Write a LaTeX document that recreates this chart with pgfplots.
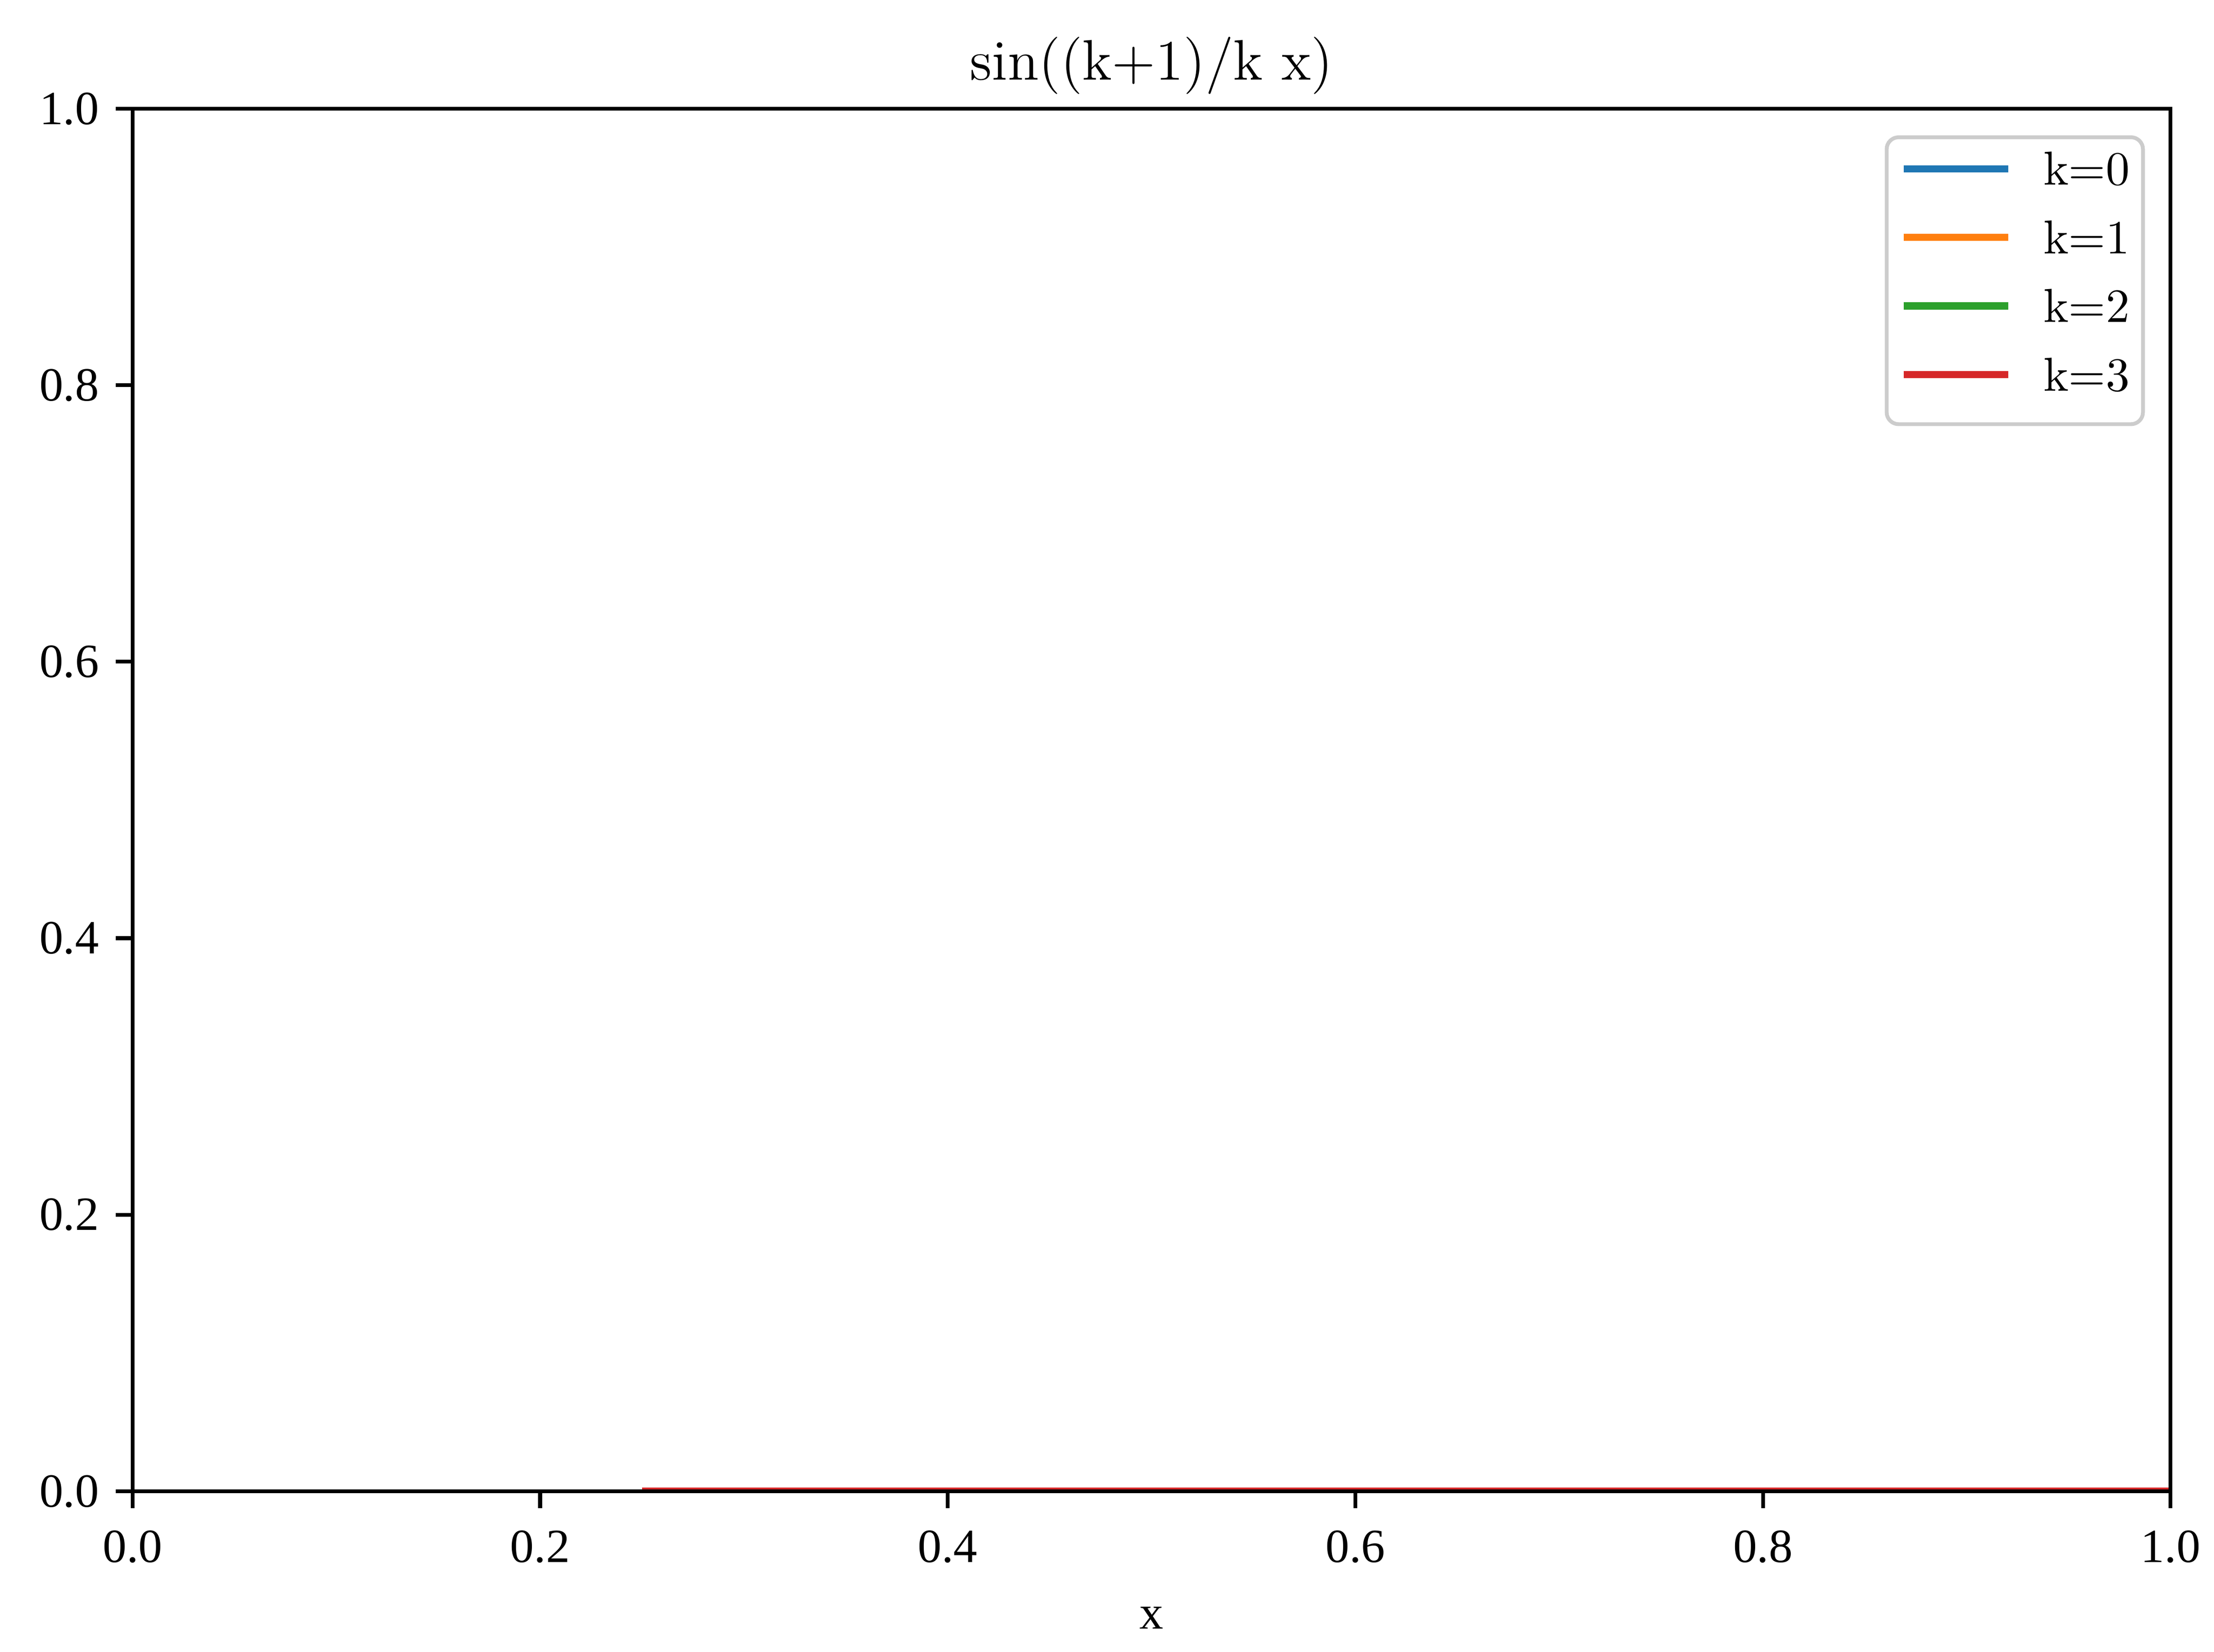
\documentclass[border=0pt]{standalone}
\usepackage{fontspec}
\setmainfont{Liberation Serif}
\newfontfamily\lmr{Latin Modern Roman}
\usepackage{pgfplots}
\pgfplotsset{compat=1.18}

\definecolor{tabblue}{HTML}{1F77B4}
\definecolor{taborange}{HTML}{FF7F0E}
\definecolor{tabgreen}{HTML}{2CA02C}
\definecolor{tabred}{HTML}{D62728}
\definecolor{legedge}{gray}{0.8}

\begin{document}
\begin{tikzpicture}
\useasboundingbox (-27.8pt,-33.7pt) rectangle (436.6pt,312.9pt);
\begin{axis}[
    scale only axis,
    width=427.5pt, height=290.1pt,
    xmin=0, xmax=1, ymin=0, ymax=1,
    xtick={0,0.2,...,1}, ytick={0,0.2,...,1},
    tick align=outside, tick pos=left,
    major tick length=3.5pt,
    every tick/.style={black, line width=0.8pt},
    axis line style={line width=0.8pt},
    axis on top,
    font=\fontsize{10}{12}\selectfont,
    /pgf/number format/assume math mode=true,
    /pgf/number format/.cd, fixed, fixed zerofill, precision=1, /pgfplots/.cd,
    xticklabel style={yshift=-1.2pt},
    xlabel={x},
    xlabel style={yshift=-2.4pt},
    title={\lmr\fontsize{12}{14}\selectfont sin((k+1)/k x)},
    title style={anchor=base},
    legend cell align=left,
    legend image code/.code={\draw[#1, line width=1.5pt] (0pt,3.4pt) -- (22pt,3.4pt);},
    legend style={
        at={(1,1)}, anchor=north east, xshift=-5.4pt, yshift=-5.6pt,
        draw=legedge, line width=0.8pt, rounded corners=2.5pt,
        fill=white, fill opacity=0.8, text opacity=1,
        font=\lmr\fontsize{10}{12}\selectfont,
        inner xsep=2.8pt, inner ysep=3pt,
        row sep=3.4pt, column sep=6.6pt,
        nodes={inner sep=0pt, text height=7pt, text depth=4pt, anchor=base west},
    },
]
\addplot[tabblue, line width=1.5pt] coordinates {(0.25,0) (0.5,0) (0.75,0) (1,0)};
\addlegendentry{k=0}
\addplot[taborange, line width=1.5pt] coordinates {(0.25,0) (0.5,0) (0.75,0) (1,0)};
\addlegendentry{k=1}
\addplot[tabgreen, line width=1.5pt] coordinates {(0.25,0) (0.5,0) (0.75,0) (1,0)};
\addlegendentry{k=2}
\addplot[tabred, line width=1.5pt] coordinates {(0.25,0) (0.5,0) (0.75,0) (1,0)};
\addlegendentry{k=3}
\end{axis}
\end{tikzpicture}
\end{document}
